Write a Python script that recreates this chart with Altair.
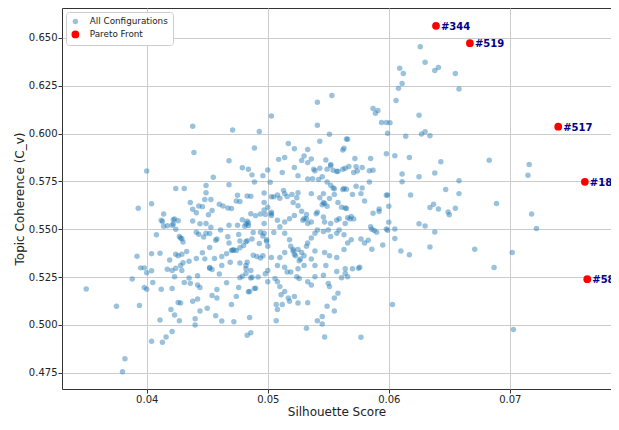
import altair as alt
import pandas as pd

# ---- data ----
all_x = [
    0.0438, 0.0471, 0.0493, 0.0503, 0.0517, 0.0541, 0.0553, 0.0541, 0.0551, 0.0543,
    0.0565, 0.0566, 0.0587, 0.0591, 0.0589, 0.0594, 0.0598, 0.0601, 0.0599, 0.0606,
    0.0608, 0.0611, 0.0609, 0.0612, 0.0614, 0.0626, 0.0630, 0.0638, 0.0641, 0.0655,
    0.0658, 0.0625, 0.0627, 0.0630, 0.0634, 0.0598, 0.0605, 0.0617, 0.0643, 0.0683,
    0.0716, 0.0715, 0.0611, 0.0611, 0.0625, 0.0638, 0.0658, 0.0647, 0.0658, 0.0598,
    0.0599, 0.0618, 0.0600, 0.0637, 0.0634, 0.0641, 0.0649, 0.0650, 0.0655, 0.0689,
    0.0592, 0.0592, 0.0600, 0.0598, 0.0599, 0.0605, 0.0605, 0.0625, 0.0630, 0.0638,
    0.0595, 0.0610, 0.0617, 0.0634, 0.0671, 0.0702, 0.0687, 0.0603, 0.0718, 0.0722,
    0.0703, 0.0577,
    # middle region
    0.0563, 0.0562, 0.0522, 0.0533, 0.0509, 0.0514, 0.0528, 0.0530, 0.0536, 0.0533,
    0.0548, 0.0552, 0.0543, 0.0572, 0.0585, 0.0500, 0.0522, 0.0538, 0.0539, 0.0549,
    0.0552, 0.0554, 0.0557, 0.0558, 0.0562, 0.0564, 0.0567, 0.0573, 0.0578, 0.0571,
    0.0574, 0.0584, 0.0587, 0.0512, 0.0502, 0.0525, 0.0533, 0.0537, 0.0542, 0.0545,
    0.0549, 0.0552, 0.0555, 0.0562, 0.0565, 0.0570, 0.0573, 0.0578, 0.0584, 0.0580,
    0.0587, 0.0497, 0.0497, 0.0503, 0.0508, 0.0513, 0.0514, 0.0516, 0.0520, 0.0524,
    0.0525, 0.0521, 0.0525, 0.0536, 0.0543, 0.0546, 0.0546, 0.0549, 0.0551, 0.0554,
    0.0555, 0.0558, 0.0561, 0.0565, 0.0566, 0.0569, 0.0571, 0.0500, 0.0503, 0.0503,
    0.0508, 0.0514, 0.0518, 0.0522, 0.0528, 0.0529, 0.0532, 0.0533, 0.0536, 0.0540,
    0.0541, 0.0546, 0.0547, 0.0552, 0.0557, 0.0559, 0.0564, 0.0568, 0.0586, 0.0590,
    0.0586, 0.0577, 0.0580, 0.0583, 0.0576, 0.0497, 0.0497, 0.0499, 0.0500, 0.0505,
    0.0510, 0.0514, 0.0518, 0.0519, 0.0521, 0.0522, 0.0525, 0.0528, 0.0530, 0.0532,
    0.0533, 0.0536, 0.0539, 0.0541, 0.0546, 0.0550, 0.0552, 0.0557, 0.0559, 0.0563,
    0.0566, 0.0569, 0.0563, 0.0557, 0.0551, 0.0547, 0.0539, 0.0536, 0.0530, 0.0526,
    0.0525, 0.0524, 0.0519, 0.0514, 0.0510, 0.0508, 0.0503, 0.0500, 0.0506, 0.0508,
    0.0510, 0.0511, 0.0514, 0.0517, 0.0522, 0.0525, 0.0518, 0.0507, 0.0508, 0.0512,
    0.0507, 0.0526, 0.0533, 0.0536, 0.0539, 0.0546, 0.0548, 0.0550, 0.0551, 0.0558,
    0.0555, 0.0549, 0.0555, 0.0541, 0.0545, 0.0532, 0.0547, 0.0557, 0.0564, 0.0564,
    0.0561, 0.0570, 0.0575, 0.0566, 0.0545, 0.0533,
    0.0521, 0.0523, 0.0530, 0.0532, 0.0545, 0.0547, 0.0563, 0.0564, 0.0585, 0.0588,
    0.0577, 0.0503, 0.0505, 0.0510, 0.0514, 0.0527, 0.0516, 0.0539,
    # left-middle region
    0.0439, 0.0489, 0.0468, 0.0400, 0.0479, 0.0484, 0.0487, 0.0496, 0.0489, 0.0455,
    0.0424, 0.0431, 0.0449, 0.0468, 0.0449, 0.0453, 0.0448, 0.0436, 0.0404, 0.0393,
    0.0443, 0.0446, 0.0438, 0.0441, 0.0451, 0.0454, 0.0460, 0.0463, 0.0467, 0.0470,
    0.0475, 0.0477, 0.0483, 0.0486, 0.0474, 0.0414, 0.0412, 0.0413, 0.0422, 0.0423,
    0.0426, 0.0422, 0.0414, 0.0417, 0.0421, 0.0438, 0.0444, 0.0449, 0.0453, 0.0468,
    0.0475, 0.0479, 0.0482, 0.0483, 0.0486, 0.0490, 0.0494, 0.0497, 0.0498, 0.0424,
    0.0441, 0.0443, 0.0447, 0.0449, 0.0427, 0.0428, 0.0430, 0.0408, 0.0452, 0.0457,
    0.0458, 0.0461, 0.0467, 0.0468, 0.0476, 0.0477, 0.0482, 0.0481, 0.0484, 0.0488,
    0.0494, 0.0496, 0.0499, 0.0452, 0.0392, 0.0404, 0.0411, 0.0419, 0.0424, 0.0426,
    0.0429, 0.0433, 0.0435, 0.0441, 0.0446, 0.0448, 0.0456, 0.0462, 0.0466, 0.0470,
    0.0472, 0.0474, 0.0477, 0.0480, 0.0483, 0.0487, 0.0493, 0.0488, 0.0491, 0.0494,
    0.0496, 0.0469, 0.0477, 0.0482, 0.0483, 0.0486, 0.0395, 0.0398, 0.0400, 0.0404,
    0.0388, 0.0417, 0.0421, 0.0423, 0.0424, 0.0428, 0.0429, 0.0430, 0.0435, 0.0436,
    0.0442, 0.0442, 0.0444, 0.0431, 0.0452, 0.0454, 0.0460, 0.0462, 0.0466, 0.0477,
    0.0479, 0.0482, 0.0482, 0.0486, 0.0487, 0.0489, 0.0492, 0.0498, 0.0500, 0.0398,
    0.0400, 0.0405, 0.0412, 0.0421, 0.0454, 0.0458, 0.0458, 0.0474, 0.0476, 0.0484,
    0.0485, 0.0490, 0.0394, 0.0426, 0.0428, 0.0438, 0.0442, 0.0444, 0.0450, 0.0420,
    0.0423, 0.0427, 0.0470, 0.0457, 0.0462, 0.0472, 0.0485, 0.0411, 0.0440, 0.0440,
    0.0421, 0.0416, 0.0413, 0.0404, 0.0483, 0.0486,
    0.0429, 0.0471, 0.0484, 0.0452,
    # far left
    0.0350, 0.0375, 0.0382, 0.0380,
]
all_y = [
    0.6038, 0.6018, 0.6011, 0.6092, 0.5948, 0.6163, 0.6199, 0.6043, 0.5996, 0.5960,
    0.5972, 0.5970, 0.6131, 0.6121, 0.6106, 0.6058, 0.6058, 0.6057, 0.6002, 0.6173,
    0.6236, 0.6261, 0.6341, 0.6314, 0.5986, 0.6453, 0.6372, 0.6329, 0.6345, 0.6314,
    0.6233, 0.6096, 0.5997, 0.6009, 0.5989, 0.5894, 0.5884, 0.5875, 0.5852, 0.5860,
    0.5838, 0.5782, 0.5789, 0.5748, 0.5774, 0.5794, 0.5753, 0.5708, 0.5686, 0.5677,
    0.5679, 0.5679, 0.5620, 0.5630, 0.5613, 0.5606, 0.5590, 0.5576, 0.5610, 0.5634,
    0.5606, 0.5593, 0.5537, 0.5501, 0.5494, 0.5501, 0.5452, 0.5529, 0.5517, 0.5486,
    0.5417, 0.5386, 0.5366, 0.5407, 0.5395, 0.5378, 0.5300, 0.5107, 0.5579, 0.5504,
    0.4976, 0.4936,
    # middle region
    0.5923, 0.5914, 0.5920, 0.5916, 0.5865, 0.5875, 0.5859, 0.5882, 0.5867, 0.5848,
    0.5862, 0.5838, 0.5818, 0.5870, 0.5870, 0.5809, 0.5823, 0.5814, 0.5806, 0.5814,
    0.5832, 0.5808, 0.5801, 0.5803, 0.5813, 0.5818, 0.5828, 0.5827, 0.5822, 0.5796,
    0.5804, 0.5806, 0.5808, 0.5796, 0.5745, 0.5780, 0.5762, 0.5764, 0.5760, 0.5774,
    0.5747, 0.5730, 0.5711, 0.5708, 0.5709, 0.5682, 0.5725, 0.5716, 0.5747, 0.5648,
    0.5584, 0.5689, 0.5640, 0.5670, 0.5679, 0.5703, 0.5686, 0.5671, 0.5682, 0.5665,
    0.5691, 0.5640, 0.5623, 0.5686, 0.5665, 0.5686, 0.5640, 0.5620, 0.5660, 0.5716,
    0.5682, 0.5640, 0.5615, 0.5608, 0.5560, 0.5567, 0.5554, 0.5615, 0.5589, 0.5572,
    0.5547, 0.5538, 0.5555, 0.5572, 0.5594, 0.5547, 0.5555, 0.5530, 0.5538, 0.5581,
    0.5589, 0.5564, 0.5538, 0.5530, 0.5547, 0.5555, 0.5530, 0.5554, 0.5500, 0.5484,
    0.5395, 0.5449, 0.5428, 0.5442, 0.5301, 0.5530, 0.5479, 0.5437, 0.5411, 0.5483,
    0.5513, 0.5479, 0.5445, 0.5411, 0.5386, 0.5369, 0.5394, 0.5378, 0.5361, 0.5411,
    0.5428, 0.5454, 0.5479, 0.5496, 0.5488, 0.5496, 0.5462, 0.5479, 0.5496, 0.5471,
    0.5428, 0.5445, 0.5394, 0.5352, 0.5361, 0.5378, 0.5386, 0.5344, 0.5310, 0.5335,
    0.5293, 0.5251, 0.5276, 0.5301, 0.5352, 0.5310, 0.5352, 0.5284, 0.5242, 0.5225,
    0.5200, 0.5158, 0.5174, 0.5141, 0.5149, 0.5115, 0.5124, 0.5107, 0.5081, 0.5107,
    0.5022, 0.5242, 0.5225, 0.5208, 0.5251, 0.5259, 0.5310, 0.5217, 0.5200, 0.5166,
    0.5141, 0.5098, 0.5073, 0.5022, 0.5005, 0.4983, 0.4937, 0.5279, 0.5293, 0.5268,
    0.5246, 0.5293, 0.5296, 0.5251, 0.5044, 0.5116,
    0.5394, 0.5361, 0.5555, 0.5577, 0.5628, 0.5635, 0.5713, 0.5611, 0.5513, 0.5493,
    0.5686, 0.5581, 0.5669, 0.5662, 0.5378, 0.5344, 0.5276, 0.5310,
    # left-middle region
    0.5901, 0.5924, 0.5858, 0.5804, 0.5821, 0.5813, 0.5784, 0.5780, 0.5747, 0.5772,
    0.5713, 0.5713, 0.5728, 0.5733, 0.5691, 0.5655, 0.5655, 0.5640, 0.5633, 0.5609,
    0.5621, 0.5618, 0.5604, 0.5586, 0.5576, 0.5598, 0.5631, 0.5621, 0.5611, 0.5608,
    0.5677, 0.5645, 0.5674, 0.5672, 0.5648, 0.5579, 0.5547, 0.5540, 0.5550, 0.5554,
    0.5544, 0.5527, 0.5516, 0.5518, 0.5521, 0.5543, 0.5528, 0.5530, 0.5510, 0.5521,
    0.5521, 0.5550, 0.5527, 0.5542, 0.5581, 0.5571, 0.5579, 0.5601, 0.5577, 0.5500,
    0.5484, 0.5474, 0.5459, 0.5479, 0.5462, 0.5454, 0.5433, 0.5471, 0.5478, 0.5442,
    0.5449, 0.5496, 0.5461, 0.5428, 0.5473, 0.5438, 0.5435, 0.5516, 0.5532, 0.5483,
    0.5484, 0.5465, 0.5445, 0.5405, 0.5359, 0.5372, 0.5374, 0.5339, 0.5369, 0.5361,
    0.5369, 0.5384, 0.5332, 0.5347, 0.5377, 0.5345, 0.5347, 0.5357, 0.5372, 0.5389,
    0.5391, 0.5389, 0.5403, 0.5415, 0.5440, 0.5449, 0.5425, 0.5364, 0.5357, 0.5349,
    0.5361, 0.5327, 0.5323, 0.5310, 0.5327, 0.5284, 0.5298, 0.5298, 0.5273, 0.5283,
    0.5240, 0.5291, 0.5284, 0.5251, 0.5296, 0.5310, 0.5284, 0.5325, 0.5245, 0.5217,
    0.5257, 0.5208, 0.5196, 0.5222, 0.5296, 0.5290, 0.5266, 0.5310, 0.5220, 0.5247,
    0.5254, 0.5293, 0.5269, 0.5245, 0.5249, 0.5190, 0.5250, 0.5267, 0.5225, 0.5195,
    0.5186, 0.5222, 0.5186, 0.5190, 0.5154, 0.5185, 0.5141, 0.5149, 0.5196, 0.5173,
    0.5174, 0.5191, 0.5102, 0.5117, 0.5115, 0.5124, 0.5135, 0.5073, 0.5087, 0.5081,
    0.5052, 0.5022, 0.5107, 0.5048, 0.5020, 0.5017, 0.5039, 0.5025, 0.5032, 0.5000,
    0.4966, 0.4937, 0.4909, 0.4914, 0.4946, 0.4959,
    0.5450, 0.5391, 0.5520, 0.5300,
    # far left
    0.5187, 0.5098, 0.4823, 0.4755,
]

pareto_x = [0.0639, 0.0667, 0.0740, 0.0762, 0.0764]
pareto_y = [0.6563, 0.6472, 0.6036, 0.5748, 0.5239]
pareto_ids = ["#344", "#519", "#517", "#180", "#583"]

series_names = ["All Configurations", "Pareto Front"]
series_colors = ["#1f77b4", "#ff0000"]

n = min(len(all_x), len(all_y))
df_all = pd.DataFrame({"x": all_x[:n], "y": all_y[:n], "series": series_names[0]})
df_par = pd.DataFrame({"x": pareto_x, "y": pareto_y, "series": series_names[1], "label": pareto_ids})
df = pd.concat([df_all, df_par], ignore_index=True)

xs = alt.Scale(domain=[0.0330, 0.07836], nice=False, zero=False)
ys = alt.Scale(domain=[0.4665, 0.6656], nice=False, zero=False)

leg = alt.Legend(title=None, orient="top-left", offset=4, padding=5,
                 fillColor="white", strokeColor="#cccccc", cornerRadius=3,
                 labelFont="DejaVu Sans", labelFontSize=8.8, labelColor="#222222",
                 labelOffset=10, rowPadding=3, symbolType="circle", symbolStrokeWidth=0)

points = alt.Chart(df).mark_circle().encode(
    x=alt.X("x:Q", scale=xs,
            axis=alt.Axis(title="Silhouette Score", values=[0.04, 0.05, 0.06, 0.07], format=".2f")),
    y=alt.Y("y:Q", scale=ys,
            axis=alt.Axis(title="Topic Coherence (C_v)",
                          values=[0.475, 0.5, 0.525, 0.55, 0.575, 0.6, 0.625, 0.65], format=".3f")),
    color=alt.Color("series:N", scale=alt.Scale(domain=series_names, range=series_colors), legend=leg),
    size=alt.Size("series:N", scale=alt.Scale(domain=series_names, range=[30, 60]), legend=leg),
    opacity=alt.Opacity("series:N", scale=alt.Scale(domain=series_names, range=[0.45, 1.0]), legend=leg),
)

labels = alt.Chart(df_par).mark_text(
    align="left", baseline="middle", dx=5, dy=1, fontSize=10, fontWeight="bold",
    font="DejaVu Sans", color="#00008b"
).encode(
    x=alt.X("x:Q", scale=xs),
    y=alt.Y("y:Q", scale=ys),
    text="label:N",
)

chart = alt.layer(points, labels).properties(
    width=549, height=381,
    autosize=alt.AutoSizeParams(type="none"),
    padding={"left": 54, "top": 0, "right": 0, "bottom": 30},
    background="white",
).configure_view(
    stroke="#333333", strokeWidth=1
).configure_axis(
    grid=True, gridColor="#cccccc", gridWidth=1,
    domain=False, tickColor="#333333", tickSize=4, tickWidth=1,
    labelFont="DejaVu Sans", labelFontSize=10, labelColor="#222222", labelPadding=1,
    titleFont="DejaVu Sans", titleFontSize=12, titleColor="#222222", titleFontWeight="normal",
    titlePadding=2,
)

chart.save("out.html", embed_options={"renderer": "svg", "actions": False})
